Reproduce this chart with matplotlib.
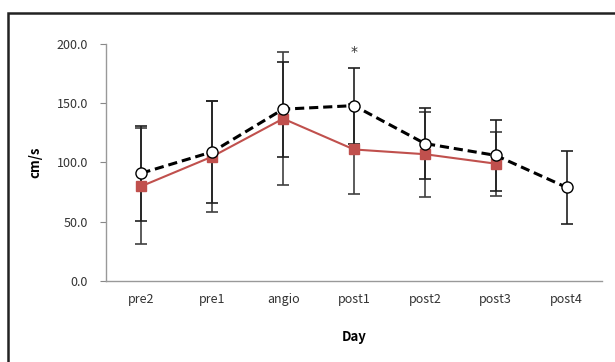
import matplotlib
matplotlib.use('Agg')
import matplotlib.pyplot as plt
from matplotlib.patches import Rectangle

# data
days = ['pre2', 'pre1', 'angio', 'post1', 'post2', 'post3', 'post4']
open_mean = [91, 109, 145, 148, 116, 106, 79]
open_err = [40, 43, 40, 32, 30, 30, 31]
red_mean = [80, 105, 137, 111, 107, 99]
red_err = [49, 47, 56, 38, 36, 27]
yticks = [0, 50, 100, 150, 200]

plt.rcParams['font.family'] = ['Noto Sans CJK KR', 'DejaVu Sans']

fig = plt.figure(figsize=(6.15, 3.62), dpi=100)
ax = fig.add_axes([106/615, 1 - 281/362, 496/615, 237/362])

x_open = list(range(len(open_mean)))
x_red = list(range(len(red_mean)))

ax.errorbar(x_red, red_mean, yerr=red_err, fmt='none', ecolor='#404040',
            elinewidth=1.2, capsize=4, capthick=1.2, zorder=2)
ax.errorbar(x_open, open_mean, yerr=open_err, fmt='none', ecolor='#202020',
            elinewidth=1.2, capsize=4, capthick=1.2, zorder=2)
ax.plot(x_red, red_mean, color='#c0504d', lw=1.5, marker='s', ms=7,
        mfc='#c0504d', mec='#c0504d', zorder=3)
ax.plot(x_open, open_mean, color='black', lw=2.2, ls=(0, (3, 1.6)),
        marker='o', ms=8, mfc='white', mec='black', mew=1.0, zorder=4)

# significance mark above post1
ax.text(3, 193, '*', ha='center', va='center', fontsize=10,
        color='#333333', family='DejaVu Sans')

ax.set_xlim(-0.5, len(days) - 0.5)
ax.set_ylim(0, 200)
ax.set_xticks(x_open)
ax.set_xticklabels(days)
ax.set_yticks(yticks)
ax.set_yticklabels(['%.1f' % v for v in yticks])
ax.tick_params(axis='x', length=0, pad=9, labelsize=9, labelcolor='#333333')
ax.tick_params(axis='y', length=4, direction='out', color='#888888',
               labelsize=9, labelcolor='#333333', pad=9)
for s in ['top', 'right']:
    ax.spines[s].set_visible(False)
for s in ['left', 'bottom']:
    ax.spines[s].set_color('#999999')
    ax.spines[s].set_linewidth(1.0)

ax.set_xlabel('Day', fontsize=9.5, fontweight='bold', labelpad=17)
ax.set_ylabel('cm/s', fontsize=9.5, fontweight='bold', labelpad=10)

# outer frame
fig.patches.append(Rectangle((8/615, -0.1), 1.2, 1 - 13/362 + 0.1,
                             transform=fig.transFigure, fill=False,
                             edgecolor='#222222', lw=1.8))

fig.savefig('out.png', dpi=100)
